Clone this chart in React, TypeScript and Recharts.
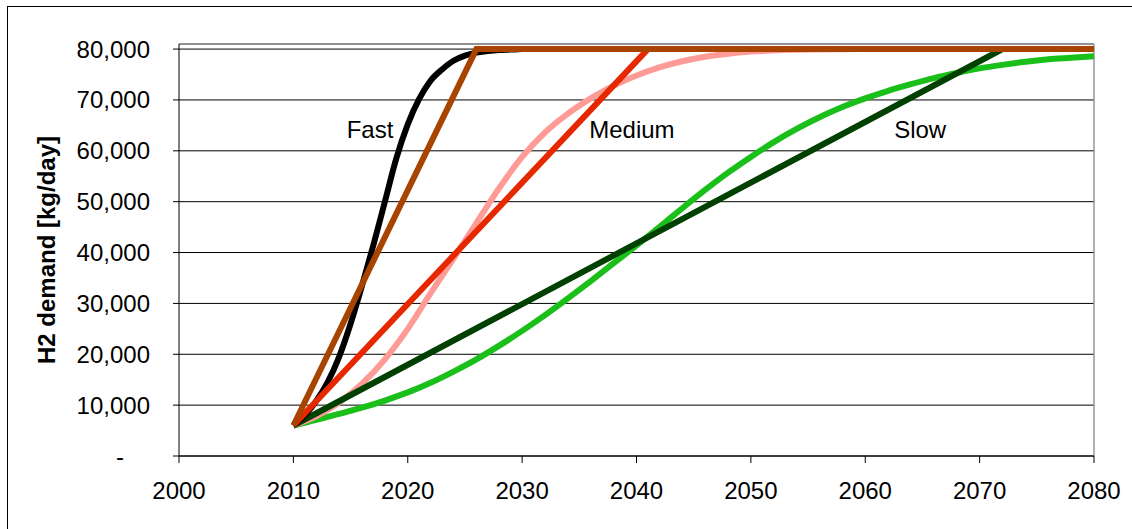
import {
  LineChart, Line, XAxis, YAxis, CartesianGrid, ReferenceLine, ReferenceDot, Label,
} from 'recharts';

// S-curve scenarios
const fastYears = [2010, 2011, 2012, 2013, 2014, 2015, 2016, 2017, 2018, 2019, 2020,
  2021, 2022, 2023, 2024, 2025, 2026, 2027, 2028, 2029, 2030, 2040, 2080];
const fastCurve = [6000, 8000, 10800, 14500, 19500, 26000, 33500, 41500, 50000, 58500, 65200,
  70200, 73800, 76000, 77700, 78700, 79300, 79600, 79800, 79900, 80000, 80000, 80000];

const mediumYears = [2010, 2012, 2014, 2016, 2018, 2020, 2022, 2024, 2026, 2028, 2030,
  2032, 2034, 2036, 2038, 2040, 2042, 2044, 2046, 2048, 2050, 2055, 2060, 2080];
const mediumCurve = [6000, 7800, 10500, 14200, 19000, 25000, 32000, 38800, 45800, 52700, 58800,
  63600, 67300, 70300, 72800, 74800, 76400, 77600, 78500, 79100, 79500, 79900, 80000, 80000];

const slowYears = [2010, 2012, 2014, 2016, 2018, 2020, 2022, 2024, 2026, 2028, 2030, 2032,
  2034, 2036, 2038, 2040, 2042, 2044, 2046, 2048, 2050, 2052, 2054, 2056, 2058, 2060,
  2062, 2064, 2066, 2068, 2070, 2072, 2074, 2076, 2078, 2080];
const slowCurve = [6000, 7100, 8300, 9500, 10900, 12500, 14400, 16600, 19000, 21700, 24600, 27700,
  31000, 34400, 37900, 41400, 45000, 48700, 52300, 55700, 58800, 61700, 64300, 66600, 68600, 70300,
  71800, 73100, 74300, 75300, 76200, 76900, 77500, 78000, 78300, 78600];

// linear ramps
const fastLineYears = [2010, 2026, 2080];
const mediumLineYears = [2010, 2041, 2080];
const slowLineYears = [2010, 2072, 2080];
const rampDemand = [6000, 80000, 80000];

const yTicks = [0, 10000, 20000, 30000, 40000, 50000, 60000, 70000, 80000];
const yMinorTicks = Array.from({ length: 41 }, (_, i) => i * 2000);
const xTicks = [2000, 2010, 2020, 2030, 2040, 2050, 2060, 2070, 2080];
const xMinorTicks = Array.from({ length: 17 }, (_, i) => 2000 + i * 5);

const annotations = [
  { text: 'Fast', year: 2016.7, demand: 64200 },
  { text: 'Medium', year: 2039.6, demand: 64200 },
  { text: 'Slow', year: 2064.8, demand: 64200 },
];

const toPoints = (years: number[], values: number[]) =>
  years.map((year, i) => ({ year, demand: values[i] }));

const FONT = '"Liberation Sans", Arial, sans-serif';

const YTick = (props: any) => {
  const { x, y, payload } = props;
  const v = payload.value;
  return (
    <text
      x={v === 0 ? x - 26 : x} y={y} dy="0.355em" textAnchor="end"
      fontSize={24} fill="#000" fontFamily={FONT}
    >
      {v === 0 ? '-' : v.toLocaleString('en-US')}
    </text>
  );
};

const series = [
  { key: 'slow', data: toPoints(slowYears, slowCurve), color: '#1ABF1A', type: 'monotone' },
  { key: 'medium', data: toPoints(mediumYears, mediumCurve), color: '#FF9B96', type: 'monotone' },
  { key: 'slowLine', data: toPoints(slowLineYears, rampDemand), color: '#004000', type: 'linear' },
  { key: 'fast', data: toPoints(fastYears, fastCurve), color: '#000000', type: 'monotone' },
  { key: 'mediumLine', data: toPoints(mediumLineYears, rampDemand), color: '#E62800', type: 'linear' },
  { key: 'fastLine', data: toPoints(fastLineYears, rampDemand), color: '#A84300', type: 'linear' },
];

export default function App() {
  return (
    <div style={{ position: 'absolute', left: 0, top: 0, width: 1132, height: 529, overflow: 'hidden', background: '#fff' }}>
      <div style={{ position: 'absolute', left: 7, top: 6, width: 1200, height: 600, border: '1px solid #000' }} />
      <div style={{ position: 'absolute', left: 0, top: 0 }}>
        <LineChart width={1132} height={529} margin={{ top: 44, right: 38, bottom: 43, left: 0 }}>
          <CartesianGrid vertical={false} stroke="#000" strokeWidth={1} />
          <XAxis
            type="number" dataKey="year" domain={[2000, 2080]} ticks={xTicks}
            allowDecimals={false} tickSize={7} tickMargin={19}
            stroke="#000" tickLine={{ stroke: '#000' }} axisLine={{ stroke: '#000' }}
            tick={{ fontSize: 24, fill: '#000', fontFamily: FONT }}
          />
          <XAxis
            xAxisId="minor" type="number" domain={[2000, 2080]} ticks={xMinorTicks}
            mirror height={0} tickSize={7} tick={false} axisLine={false}
            tickLine={{ stroke: '#000' }}
          />
          <YAxis
            type="number" domain={[0, 81000]} ticks={yTicks} width={179}
            tickSize={6} tickMargin={23} tick={<YTick />}
            tickLine={{ stroke: '#000' }} axisLine={{ stroke: '#000' }}
          >
            <Label
              value="H2 demand [kg/day]" angle={-90} position="insideLeft" offset={46}
              style={{ textAnchor: 'middle', fontWeight: 'bold', fontSize: 24, fill: '#000', fontFamily: FONT }}
            />
          </YAxis>
          <YAxis
            yAxisId="minor" type="number" domain={[0, 81000]} ticks={yMinorTicks}
            mirror width={0} tickSize={5} tick={false} axisLine={false}
            tickLine={{ stroke: '#000' }}
          />
          <ReferenceLine y={81000} stroke="#999" strokeWidth={1.5} />
          <ReferenceLine x={2080} stroke="#999" strokeWidth={1.5} />
          {series.map(s => (
            <Line
              key={s.key} data={s.data} dataKey="demand" type={s.type as any}
              stroke={s.color} strokeWidth={6} dot={false} activeDot={false}
              strokeLinejoin="miter" isAnimationActive={false}
            />
          ))}
          {annotations.map(a => (
            <ReferenceDot key={a.text} x={a.year} y={a.demand} r={0} stroke="none" fill="none">
              <Label value={a.text} position="center" fontSize={24} fill="#000" fontFamily={FONT} />
            </ReferenceDot>
          ))}
        </LineChart>
      </div>
    </div>
  );
}
